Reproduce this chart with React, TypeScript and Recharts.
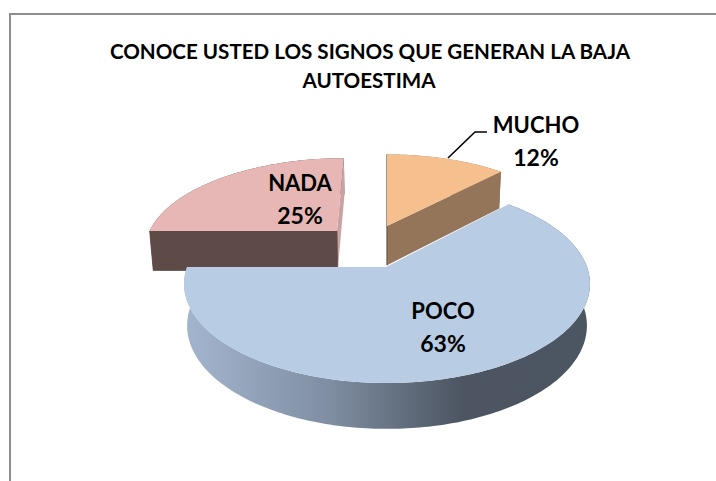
import React from "react";
import { PieChart, Pie } from "recharts";

const categories = ["NADA", "MUCHO", "POCO"];
const percents = [25, 12, 63];
const chartData = categories.map((name, i) => ({ name, value: percents[i] }));

const titleLines = ["CONOCE USTED LOS SIGNOS QUE GENERAN LA BAJA", "AUTOESTIMA"];

// look of each slice; explode is in units of the pie radius, on the pie's plane
const sliceStyle: Record<string, any> = {
  NADA: { top: "#e6b7b5", arc: "#5e4a47", start: "#5e4a47", end: "#c9a3a1", explode: [-0.267, 0.399], label: [-87, -76] },
  MUCHO: { top: "#f6c08e", arc: "#94755a", start: "#6e5a48", end: "#94755a", explode: [0, 0.459], label: [149, -134] },
  POCO: { top: "#b8cce4", arc: "url(#pocoWall)", start: "#b8cce4", end: "#b8cce4", explode: [0, 0], label: [56, 52] },
};

const TILT = 0.4815; // vertical squash
const PERSPECTIVE = 0.17;
const BOTTOM_SHRINK = 0.985;

function renderSlice(props: any) {
  const { cx, cy, outerRadius, startAngle, endAngle, name } = props;
  const s = sliceStyle[name];
  const [ex, ey] = s.explode;
  const project = (u: number, v: number, bottom = false) => {
    const w = 1 + PERSPECTIVE * (v + ey);
    const px = (outerRadius * (u + ex)) / w;
    const py = (outerRadius * TILT * (v + ey)) / w;
    if (!bottom) return [cx + px, cy - py];
    return [cx + px * BOTTOM_SHRINK, cy - py + 41 / Math.pow(w, 0.6)];
  };
  const arcPoints = (bottom: boolean) => {
    const pts: number[][] = [];
    const steps = Math.max(2, Math.ceil(Math.abs(startAngle - endAngle)));
    for (let i = 0; i <= steps; i++) {
      const a = ((startAngle + ((endAngle - startAngle) * i) / steps) * Math.PI) / 180;
      pts.push(project(Math.cos(a), Math.sin(a), bottom));
    }
    return pts;
  };
  const toPath = (pts: number[][]) =>
    "M" + pts.map((p) => p[0].toFixed(2) + "," + p[1].toFixed(2)).join("L") + "Z";

  const topArc = arcPoints(false);
  const botArc = arcPoints(true);
  const apexTop = project(0, 0);
  const apexBot = project(0, 0, true);

  return (
    <g>
      <path d={toPath([...topArc, ...botArc.slice().reverse()])} fill={s.arc} />
      <path d={toPath([apexTop, topArc[topArc.length - 1], botArc[botArc.length - 1], apexBot])} fill={s.end} />
      <path d={toPath([apexTop, topArc[0], botArc[0], apexBot])} fill={s.start} stroke={s.start} strokeWidth={0.8} />
      <path d={toPath([apexTop, ...topArc])} fill={s.top} />
    </g>
  );
}

function renderLabel(props: any) {
  const { cx, cy, name, value } = props;
  const [dx, dy] = sliceStyle[name].label;
  const x = cx + dx;
  const y = cy + dy;
  return (
    <g>
      {name === "MUCHO" && (
        <path d={`M${cx + 61},${cy - 109}L${cx + 88},${cy - 135}L${cx + 100},${cy - 135}`} fill="none" stroke="#000" strokeWidth={1.6} />
      )}
      <text x={x} y={y} textAnchor="middle" fontFamily="Lato" fontWeight={700} fontSize={22} fill="#000">
        {name}
      </text>
      <text x={x} y={y + 33} textAnchor="middle" fontFamily="Lato" fontWeight={700} fontSize={23} fill="#000">
        {value}%
      </text>
    </g>
  );
}

export default function App() {
  return (
    <div style={{ position: "absolute", left: 0, top: 0, width: 716, height: 481, background: "#fff", overflow: "hidden" }}>
      <div style={{ position: "absolute", left: 9, top: 13, width: 707, height: 468, borderLeft: "2px solid #8e8e8e", borderTop: "2px solid #8e8e8e", boxSizing: "border-box" }} />
      <div style={{ position: "absolute", left: 0, top: 0 }}>
        <PieChart width={716} height={481} margin={{ top: 0, right: 0, bottom: 0, left: 0 }}>
          <defs>
            <linearGradient id="pocoWall" gradientUnits="userSpaceOnUse" x1="187" y1="0" x2="592" y2="0">
              <stop offset="0" stopColor="#a3b5ce" />
              <stop offset="0.35" stopColor="#7f8ea2" />
              <stop offset="0.68" stopColor="#4c5561" />
              <stop offset="1" stopColor="#4c5662" />
            </linearGradient>
          </defs>
          <text x={370} y={59} textAnchor="middle" fontFamily="Lato" fontWeight={700} fontSize={20.6} fill="#000">
            {titleLines[0]}
          </text>
          <text x={369} y={88} textAnchor="middle" fontFamily="Lato" fontWeight={700} fontSize={20.6} fill="#000">
            {titleLines[1]}
          </text>
          <Pie
            data={chartData}
            dataKey="value"
            nameKey="name"
            cx={387}
            cy={267}
            outerRadius={200}
            startAngle={180}
            endAngle={-180}
            stroke="none"
            isAnimationActive={false}
            shape={renderSlice}
            inactiveShape={renderSlice}
            activeShape={renderSlice}
            label={renderLabel}
            labelLine={false}
          />
        </PieChart>
      </div>
    </div>
  );
}
